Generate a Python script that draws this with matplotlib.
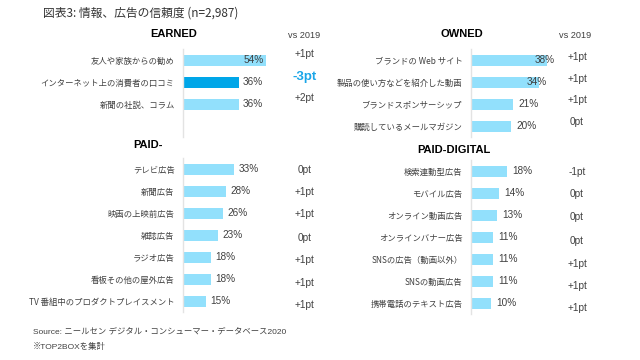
import matplotlib
matplotlib.use('Agg')
import matplotlib.pyplot as plt

plt.rcParams['font.family'] = ['Liberation Sans', 'Noto Sans CJK JP', 'DejaVu Sans']

# データ
earned_labels = ['友人や家族からの勧め', 'インターネット上の消費者の口コミ', '新聞の社説、コラム']
earned_vals = [54, 36, 36]
earned_diff = ['+1pt', '-3pt', '+2pt']

owned_labels = ['ブランドの Web サイト', '製品の使い方などを紹介した動画', 'ブランドスポンサーシップ', '購読しているメールマガジン']
owned_vals = [38, 34, 21, 20]
owned_diff = ['+1pt', '+1pt', '+1pt', '0pt']

paid_labels = ['テレビ広告', '新聞広告', '映画の上映前広告', '雑誌広告', 'ラジオ広告', '看板その他の屋外広告', 'TV 番組中のプロダクトプレイスメント']
paid_vals = [33, 28, 26, 23, 18, 18, 15]
paid_diff = ['0pt', '+1pt', '+1pt', '0pt', '+1pt', '+1pt', '+1pt']

digital_labels = ['検索連動型広告', 'モバイル広告', 'オンライン動画広告', 'オンラインバナー広告', 'SNSの広告（動画以外）', 'SNSの動画広告', '携帯電話のテキスト広告']
digital_vals = [18, 14, 13, 11, 11, 11, 10]
digital_diff = ['-1pt', '0pt', '0pt', '0pt', '+1pt', '+1pt', '+1pt']

LIGHT = '#92e0fc'
DARK = '#00a6e8'
TXT = '#404040'

W, H = 640, 360
fig = plt.figure(figsize=(6.4, 3.6), dpi=100)


def make_ax(x, top, width, nslots, xmax):
    ax = fig.add_axes([x / W, 1 - (top + nslots * 22) / H, width / W, nslots * 22 / H])
    ax.set_xlim(0, xmax)
    ax.set_ylim(nslots - 0.5, -0.5)
    for s in ['top', 'right', 'bottom']:
        ax.spines[s].set_visible(False)
    ax.spines['left'].set_color('#e3e3e3')
    ax.spines['left'].set_linewidth(1)
    ax.set_xticks([])
    ax.tick_params(axis='y', length=0, pad=6, labelsize=6, labelcolor=TXT)
    return ax


def panel(ax, labels, vals, diffs, colors, diff_x, diff_off, inside, shift):
    y = list(range(len(vals)))
    ax.barh(y, vals, height=0.5, color=colors)
    ax.set_yticks(y)
    ax.set_yticklabels(labels, family=['Noto Sans CJK JP'])
    for i, v in enumerate(vals):
        if v > inside:
            ax.text(v + shift, i, f'{v}%', ha='right', va='center', fontsize=7.2, color=TXT)
        else:
            ax.text(v + 2.8, i, f'{v}%', ha='left', va='center', fontsize=7.2, color=TXT)
    for i, d in enumerate(diffs):
        yy = i + diff_off[i]
        if d.startswith('-3'):
            ax.text(diff_x, yy, d, ha='center', va='center', fontsize=9.5,
                    color='#1ba6e8', fontweight='bold', clip_on=False)
        else:
            ax.text(diff_x, yy, d, ha='center', va='center', fontsize=7.2,
                    color=TXT, clip_on=False)


# 左側 (EARNED / PAID-)
ax1 = make_ax(183, 49, 108, 4, 70)
panel(ax1, earned_labels, earned_vals, earned_diff,
      [LIGHT, DARK, LIGHT], 79, [-0.27, -0.23, -0.27], 50, -1.5)
ax1.set_yticks(range(3))

ax2 = make_ax(183, 158, 108, 7, 70)
panel(ax2, paid_labels, paid_vals, paid_diff, [LIGHT] * 7, 79,
      [0.05, 0.05, 0.05, 0.12, 0.14, 0.18, 0.2], 50, -1.5)

# 右側 (OWNED / PAID-DIGITAL)
ax3 = make_ax(471, 49, 100, 4, 50)
panel(ax3, owned_labels, owned_vals, owned_diff, [LIGHT] * 4, 53,
      [-0.15, -0.15, -0.18, -0.2], 30, 4)

ax4 = make_ax(471, 160, 100, 7, 50)
panel(ax4, digital_labels, digital_vals, digital_diff, [LIGHT] * 7, 53,
      [0.05, 0.05, 0.1, 0.18, 0.22, 0.23, 0.23], 30, 4)

# タイトル類
fig.text(43 / W, 1 - 13 / H, '図表3: 情報、広告の信頼度 (n=2,987)', fontsize=8.5,
         color='#333333', va='center', ha='left', family=['Noto Sans CJK JP'])
for x, y, t in [(174, 34, 'EARNED'), (462, 34, 'OWNED'), (148, 145, 'PAID-'), (454, 150, 'PAID-DIGITAL')]:
    fig.text(x / W, 1 - y / H, t, fontsize=8, fontweight='bold', color='black',
             ha='center', va='center')
fig.text(304 / W, 1 - 35 / H, 'vs 2019', fontsize=6.6, color=TXT, ha='center', va='center')
fig.text(575 / W, 1 - 36 / H, 'vs 2019', fontsize=6.6, color=TXT, ha='center', va='center')

fig.text(33 / W, 1 - 332 / H, 'Source: ニールセン デジタル・コンシューマー・データベース2020',
         fontsize=6, color=TXT, ha='left', va='center', family=['Liberation Sans', 'Noto Sans CJK JP'])
fig.text(33 / W, 1 - 347 / H, '※TOP2BOXを集計', fontsize=6, color=TXT, ha='left',
         va='center', family=['Liberation Sans', 'Noto Sans CJK JP'])

fig.savefig('out.png', dpi=100, facecolor='white')
